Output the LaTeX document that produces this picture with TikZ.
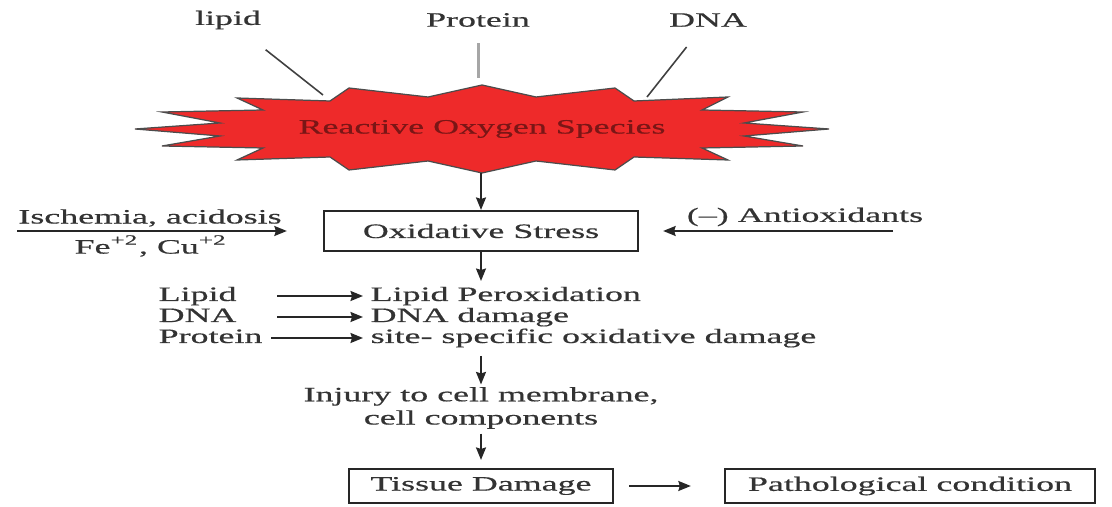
\documentclass[tikz,border=0pt]{standalone}
\usepackage{fontspec}
\setmainfont{Liberation Serif}[FakeStretch=1.76, FakeBold=0.5]
\usetikzlibrary{arrows.meta}
\definecolor{rosred}{HTML}{EE2A2A}
\definecolor{rostext}{HTML}{7A1616}
\definecolor{ink}{HTML}{333333}
\begin{document}
\begin{tikzpicture}[x=0.01cm, y=-0.01cm, font=\fontsize{5.8}{6.6}\selectfont, text=ink,
      arr/.style={draw=black!85, line width=0.5pt, -{Stealth[length=1.25mm, width=1mm, inset=0.15mm]}},
      box/.style={draw=black!85, line width=0.6pt, inner sep=0pt},
      lead/.style={draw=black!75, line width=0.45pt},
      lhs/.style={anchor=west, inner sep=0pt, text width=1.12cm, text height=0.14cm, text depth=0.04cm},
      rhs/.style={anchor=west, inner sep=0pt, text height=0.14cm, text depth=0.04cm}]
    \useasboundingbox (0,0) rectangle (1112,507);
    % the burst
    \draw[fill=rosred, draw=black!70, line width=0.35pt]
      (135,129) -- (220,123) -- (162,112) -- (263,110) -- (237,98) -- (330,101) -- (349,88)
      -- (428,97) -- (482,85) -- (536,97) -- (615,88) -- (634,101) -- (728,97) -- (702,110)
      -- (803,112) -- (744,123) -- (829,129) -- (744,136) -- (803,146) -- (702,148) -- (728,160)
      -- (634,157) -- (615,170) -- (536,161) -- (482,173) -- (428,161) -- (349,170) -- (330,157)
      -- (237,160) -- (263,148) -- (162,146) -- (220,136) -- cycle;
    \node[text=rostext] (ros) at (482,129) {Reactive Oxygen Species};
    \coordinate (ros-l) at (323,95);
    \coordinate (ros-t) at (478,78);
    \coordinate (ros-r) at (647,97);
    \coordinate (ros-b) at (481,173);
    \node (lipid) at (228,20) {lipid};
    \node (protein) at (478,20) {Protein};
    \node (dna) at (708,20) {DNA};
    \draw[lead, shorten <=0.13cm] (lipid) -- (ros-l);
    \draw[draw=black!35, line width=0.85pt, shorten <=0.04cm] (protein) -- (ros-t);
    \draw[lead, shorten <=0.1cm] (dna) -- (ros-r);
    % oxidative stress
    \node[box, minimum width=3.14cm, minimum height=0.40cm] (ox) at (481,231) {Oxidative Stress};
    \draw[arr] (ros-b) -- (ox);
    \coordinate (isch) at (17,231);
    \coordinate (anti) at (893,231);
    \draw[arr, shorten >=0.36cm] (isch) -- (ox);
    \draw[arr, shorten >=0.24cm] (anti) -- (ox);
    \node (isch-up) at (150,218) {Ischemia, acidosis};
    \node (isch-dn) at (151,246) {Fe\textsuperscript{+2}, Cu\textsuperscript{+2}};
    \node (anti-lbl) at (805,217) {(--) Antioxidants};
    % targets
    \coordinate (rows-t) at (481,281);
    \draw[arr] (ox) -- (rows-t);
    \node[lhs] (l1) at (158,296) {Lipid};
    \node[rhs] (r1) at (370,296) {Lipid Peroxidation};
    \node[lhs] (l2) at (158,317) {DNA};
    \node[rhs] (r2) at (370,317) {DNA damage};
    \node[lhs] (l3) at (158,338) {Protein};
    \node[rhs] (r3) at (370,338) {site- specific oxidative damage};
    \draw[arr, shorten <=0.06cm, shorten >=0.07cm] (l1) -- (r1);
    \draw[arr, shorten <=0.06cm, shorten >=0.07cm] (l2) -- (r2);
    \draw[arr, shorten <=0.0cm, shorten >=0.07cm] (l3) -- (r3);
    % outcome
    \coordinate (rows-b) at (481,356);
    \node[inner sep=0pt, align=center] (injury) at (481,408) {Injury to cell membrane,\\cell components};
    \node[box, minimum width=2.64cm, minimum height=0.34cm] (tissue) at (481,486) {Tissue Damage};
    \node[box, minimum width=3.70cm, minimum height=0.34cm] (patho) at (910,486) {Pathological condition};
    \draw[arr, shorten >=0.02cm] (rows-b) -- (injury);
    \draw[arr, shorten <=0.04cm, shorten >=0.08cm] (injury) -- (tissue);
    \draw[arr, shorten <=0.15cm, shorten >=0.33cm] (tissue) -- (patho);
\end{tikzpicture}
\end{document}
